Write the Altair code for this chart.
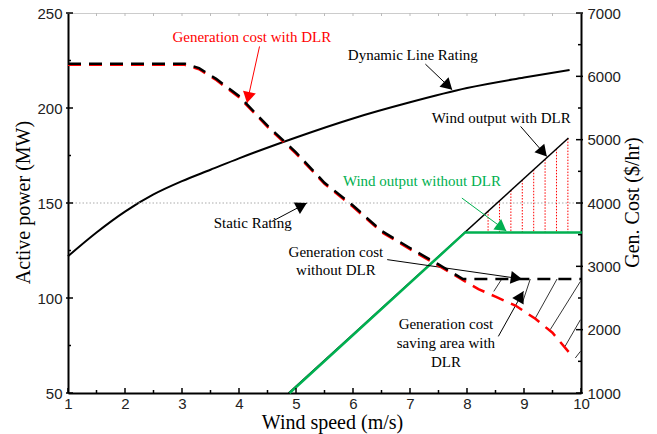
import math
import altair as alt
import pandas as pd

# ---------------- data ----------------
# Dynamic line rating (MW)
dlr_speed = [1, 1.5, 2, 2.5, 3, 3.5, 4, 5, 6, 7, 8, 9, 9.8]
dlr_mw = [122, 134.5, 145.5, 154.5, 161.5, 167.5, 173.5, 184.5, 194.5, 203, 210.5, 216, 220]

# Generation cost ($/hr): common part, then the two tails
cost_speed_common = [1, 3.05, 3.3, 3.6, 4.0, 4.5, 5.0, 5.5, 6.0, 6.5, 7.0, 7.5, 7.93]
cost_common = [6200, 6200, 6130, 5960, 5690, 5220, 4800, 4320, 3960, 3560, 3290, 3030, 2800]
cost_dlr_speed_tail = [8.2, 8.5, 8.85, 9.2, 9.5, 9.8]
cost_dlr_tail = [2660, 2540, 2400, 2190, 1970, 1650]
cost_nodlr_speed_tail = [10]
cost_nodlr_tail = [2800]

# Wind output (MW)
wind_dlr_speed = [4.87, 9.78]
wind_dlr_mw = [50, 184.2]
wind_nodlr_speed = [4.87, 7.95, 10]
wind_nodlr_mw = [50, 134.5, 134.5]

static_rating_mw = [150]

# Hatching: wind gain (red, MW) and cost saving (black, $/hr)
red_hatch_speed = [8.37, 8.57, 8.77, 8.97, 9.17, 9.37, 9.57, 9.77]
red_hatch_top = [145.7, 151.1, 156.6, 162.1, 167.5, 173.0, 178.5, 183.9]
red_hatch_bottom = [134.5] * 8
black_hatch_x1 = [8.47, 8.97, 9.20, 9.46, 9.72, 9.90]
black_hatch_c1 = [2604, 2420, 2184, 2000, 1736, 1553]
black_hatch_x2 = [8.61, 9.11, 9.58, 9.99, 9.99, 9.99]
black_hatch_c2 = [2800, 2800, 2800, 2762, 2157, 1657]

# Annotations (x in m/s, y in MW)
note_text = ["Generation cost with DLR", "Dynamic Line Rating", "Wind output with DLR",
             "Wind output without DLR", "Static Rating", "Generation cost", "without DLR",
             "Generation cost", "saving area with", "DLR"]
note_x = [4.225, 7.05, 8.60, 7.21, 4.24, 5.70, 5.70, 7.63, 7.63, 7.63]
note_mw = [237.5, 228.0, 194.7, 161.4, 139.5, 124.0, 114.9, 86.3, 76.3, 66.1]
note_group = ["cost_dlr", "other", "other", "wind_nodlr", "other", "other", "other",
              "other", "other", "other"]

arrow_x1 = [4.36, 7.27, 8.94, 7.91, 4.58, 6.60, 8.55]
arrow_mw1 = [232.4, 223.1, 190.3, 152.6, 140.3, 120.2, 79.8]
arrow_x2 = [4.14, 7.74, 9.40, 8.69, 5.19, 8.965, 8.99]
arrow_mw2 = [202.6, 209.6, 174.5, 135.3, 150.0, 110.0, 103.5]
arrow_group = ["cost_dlr", "other", "other", "wind_nodlr", "other", "other", "other"]

x_major = list(range(1, 11))
x_minor = [1.5, 2.5, 3.5, 4.5, 5.5, 6.5, 7.5, 8.5, 9.5]
top_ticks = [1.5, 2, 2.5, 3, 3.5, 4, 4.5, 5, 5.5, 6, 6.5, 7, 7.5, 8, 8.5, 9, 9.5]
mw_major = [50, 100, 150, 200, 250]
mw_minor = [75, 125, 175, 225]
cost_major = [1000, 2000, 3000, 4000, 5000, 6000, 7000]
cost_minor = [1500, 2500, 3500, 4500, 5500, 6500]

# ---------------- layout / style ----------------
W, H = 513, 380
XD, YD, CD = [1, 10], [50, 250], [1000, 7000]
PX_X = W / (XD[1] - XD[0])
PX_Y = H / (YD[1] - YD[0])
RED, GREEN, BLACK = "#ff0000", "#00b050", "#000000"
SERIF, SANS = "Liberation Serif", "Liberation Sans"
HEAD_SIZE = 170
DASH = [13, 8]

xs = alt.Scale(domain=XD, nice=False, zero=False)
ys = alt.Scale(domain=YD, nice=False, zero=False)
cs = alt.Scale(domain=CD, nice=False, zero=False)
grp_color = alt.Scale(domain=["cost_dlr", "wind_nodlr", "other"], range=[RED, GREEN, BLACK])

x_axis = alt.Axis(values=x_major, format="d", title="Wind speed (m/s)", grid=False,
                  ticks=False, tickSize=0, domainColor=BLACK, domainWidth=2,
                  labelFont=SANS, labelFontSize=15, labelColor="#222", labelPadding=3,
                  labelFlush=False, labelOverlap=False,
                  titleFont=SERIF, titleFontSize=20, titleFontWeight="normal",
                  titleColor=BLACK, titleX=264, titleY=29, titleBaseline="middle")
y_axis = alt.Axis(values=mw_major, format="d", title="Active power (MW)", grid=False,
                  ticks=False, tickSize=0, domainColor=BLACK, domainWidth=2,
                  labelFont=SANS, labelFontSize=15, labelColor="#222", labelPadding=6,
                  labelOverlap=False,
                  titleFont=SERIF, titleFontSize=20, titleFontWeight="normal",
                  titleColor=BLACK, titleX=-45, titleY=189, titleBaseline="middle")
c_axis = alt.Axis(values=cost_major, format="d", title="Gen. Cost ($/hr)", orient="right",
                  grid=False, ticks=False, tickSize=0, domainColor=BLACK, domainWidth=2,
                  labelFont=SANS, labelFontSize=15, labelColor="#222", labelPadding=6,
                  labelOverlap=False,
                  titleFont=SERIF, titleFontSize=20, titleFontWeight="normal",
                  titleColor=BLACK, titleAngle=270, titleX=51, titleY=189,
                  titleBaseline="middle")


def X(f):
    return alt.X(f, type="quantitative", scale=xs, axis=x_axis)


def YM(f):
    return alt.Y(f, type="quantitative", scale=ys, axis=y_axis)


def YC(f):
    return alt.Y(f, type="quantitative", scale=cs, axis=c_axis)


# ---------------- dataframes ----------------
dlr_df = pd.DataFrame({"speed": dlr_speed, "mw": dlr_mw})
red_cost_df = pd.DataFrame({"speed": cost_speed_common + cost_dlr_speed_tail,
                            "cost": cost_common + cost_dlr_tail})
blk_cost_df = pd.DataFrame({"speed": cost_speed_common + cost_nodlr_speed_tail,
                            "cost": cost_common + cost_nodlr_tail})
wind_dlr_df = pd.DataFrame({"speed": wind_dlr_speed, "mw": wind_dlr_mw})
wind_nodlr_df = pd.DataFrame({"speed": wind_nodlr_speed, "mw": wind_nodlr_mw})
static_df = pd.DataFrame({"mw": static_rating_mw})
red_hatch_df = pd.DataFrame({"speed": red_hatch_speed, "top": red_hatch_top,
                             "bottom": red_hatch_bottom})
blk_hatch_df = pd.DataFrame({"x1": black_hatch_x1, "c1": black_hatch_c1,
                             "x2": black_hatch_x2, "c2": black_hatch_c2})
note_df = pd.DataFrame({"text": note_text, "speed": note_x, "mw": note_mw, "grp": note_group})
arrow_df = pd.DataFrame({"x1": arrow_x1, "m1": arrow_mw1, "x2": arrow_x2, "m2": arrow_mw2,
                         "grp": arrow_group})

# arrow heads: place a triangle at each tip, rotated along the arrow
h = 0.433 * math.sqrt(HEAD_SIZE)
hx, hm, ha = [], [], []
for x1, m1, x2, m2 in zip(arrow_x1, arrow_mw1, arrow_x2, arrow_mw2):
    dx = (x2 - x1) * PX_X
    dy = -(m2 - m1) * PX_Y
    L = math.hypot(dx, dy)
    ux, uy = dx / L, dy / L
    ha.append(math.degrees(math.atan2(dx, -dy)) % 360)
    hx.append(x2 - h * ux / PX_X)
    hm.append(m2 + h * uy / PX_Y)
head_df = pd.DataFrame({"speed": hx, "mw": hm, "angle": ha, "grp": arrow_group})

xmaj_df = pd.DataFrame({"speed": x_major})
xmin_df = pd.DataFrame({"speed": x_minor})
top_df = pd.DataFrame({"speed": top_ticks})
mwmaj_df = pd.DataFrame({"mw": mw_major})
mwmin_df = pd.DataFrame({"mw": mw_minor})
cmaj_df = pd.DataFrame({"cost": cost_major})
cmin_df = pd.DataFrame({"cost": cost_minor})

# ---------------- MW layers ----------------
dlr_line = alt.Chart(dlr_df).mark_line(color=BLACK, strokeWidth=2, interpolate="monotone").encode(
    x=X("speed"), y=YM("mw"))
static_line = alt.Chart(static_df).mark_rule(color="#aaaaaa", strokeDash=[1.5, 2], strokeWidth=1).encode(
    y=YM("mw"))
top_line = alt.Chart(top_df).mark_rule(color="#cccccc", strokeWidth=1).encode(
    x=alt.value(0), x2=alt.value(W), y=alt.value(0.5))
top_tick = alt.Chart(top_df).mark_rule(color="#bbbbbb", strokeWidth=1).encode(
    x=X("speed"), y=alt.value(0), y2=alt.value(3))
wind_dlr = alt.Chart(wind_dlr_df).mark_line(color=BLACK, strokeWidth=1.5).encode(
    x=X("speed"), y=YM("mw"))
wind_nodlr = alt.Chart(wind_nodlr_df).mark_line(color=GREEN, strokeWidth=2.5, xOffset=1).encode(
    x=X("speed"), y=YM("mw"))
red_hatch = alt.Chart(red_hatch_df).mark_rule(color=RED, strokeWidth=1, strokeDash=[1.5, 1.5]).encode(
    x=X("speed"), y=YM("top"), y2=alt.Y2("bottom"))
xmaj = alt.Chart(xmaj_df).mark_rule(color=BLACK, strokeWidth=1.5).encode(
    x=X("speed"), y=alt.value(H), y2=alt.value(H - 5))
xmin = alt.Chart(xmin_df).mark_rule(color=BLACK, strokeWidth=1.5).encode(
    x=X("speed"), y=alt.value(H), y2=alt.value(H - 3))
ymaj = alt.Chart(mwmaj_df).mark_rule(color=BLACK, strokeWidth=1.5).encode(
    y=YM("mw"), x=alt.value(-2), x2=alt.value(5))
ymin = alt.Chart(mwmin_df).mark_rule(color=BLACK, strokeWidth=1.5).encode(
    y=YM("mw"), x=alt.value(0), x2=alt.value(3))
notes = alt.Chart(note_df).mark_text(font=SERIF, fontSize=15, align="center", baseline="middle").encode(
    x=X("speed"), y=YM("mw"), text="text:N", color=alt.Color("grp:N", scale=grp_color, legend=None))
arrows = alt.Chart(arrow_df).mark_rule(strokeWidth=1).encode(
    x=X("x1"), y=YM("m1"), x2=alt.X2("x2"), y2=alt.Y2("m2"),
    color=alt.Color("grp:N", scale=grp_color, legend=None))
heads = alt.Chart(head_df).mark_point(shape="triangle-up", filled=True, opacity=1,
                                      size=HEAD_SIZE, strokeWidth=0).encode(
    x=X("speed"), y=YM("mw"), angle=alt.Angle("angle:Q", scale=None),
    color=alt.Color("grp:N", scale=grp_color, legend=None))

mw_layer = alt.layer(dlr_line, static_line, top_line, top_tick, red_hatch, wind_dlr, wind_nodlr,
                     xmaj, xmin, ymaj, ymin, arrows, heads, notes)

# ---------------- cost layers ----------------
red_cost = alt.Chart(red_cost_df).mark_line(color=RED, strokeWidth=2.5, strokeDash=DASH, yOffset=1.2).encode(
    x=X("speed"), y=YC("cost"))
blk_cost = alt.Chart(blk_cost_df).mark_line(color=BLACK, strokeWidth=2.5, strokeDash=DASH).encode(
    x=X("speed"), y=YC("cost"))
blk_hatch = alt.Chart(blk_hatch_df).mark_rule(color=BLACK, strokeWidth=0.8).encode(
    x=X("x1"), y=YC("c1"), x2=alt.X2("x2"), y2=alt.Y2("c2"))
cmaj = alt.Chart(cmaj_df).mark_rule(color=BLACK, strokeWidth=1.5).encode(
    y=YC("cost"), x=alt.value(W + 2), x2=alt.value(W - 5))
cmin = alt.Chart(cmin_df).mark_rule(color=BLACK, strokeWidth=1.5).encode(
    y=YC("cost"), x=alt.value(W), x2=alt.value(W - 3))

cost_layer = alt.layer(blk_hatch, red_cost, blk_cost, cmaj, cmin)

chart = alt.layer(mw_layer, cost_layer).resolve_scale(y="independent").properties(
    width=W, height=H,
    autosize=alt.AutoSizeParams(type="none"),
    padding={"left": 60, "top": 5, "right": 68, "bottom": 42},
    background="white",
).configure_view(stroke=None)

chart.save("out.html", embed_options={"renderer": "svg", "actions": False})
